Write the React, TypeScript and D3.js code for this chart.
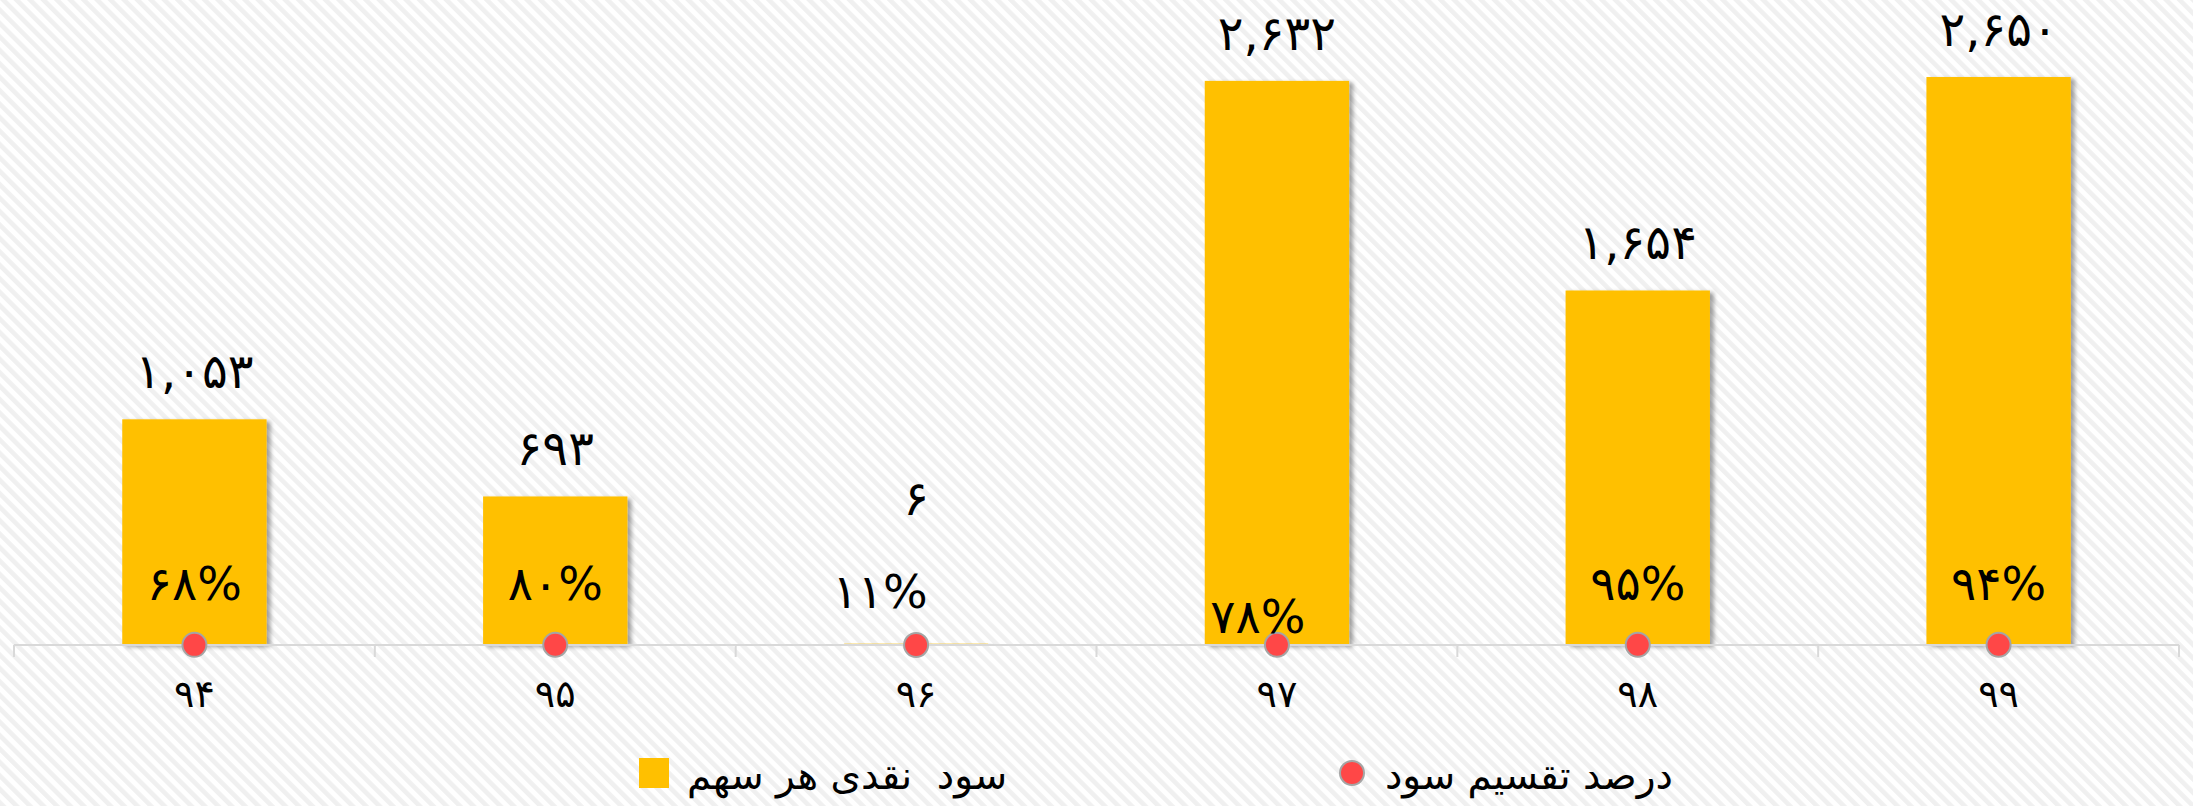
import React from 'react';
import * as d3 from 'd3';

// ---- data ----
const categories = [94, 95, 96, 97, 98, 99];
const cashDividend = [1053, 693, 6, 2632, 1654, 2650];
const payoutRatio = [0.68, 0.8, 0.11, 0.78, 0.95, 0.94];
const seriesNames = ['سود  نقدی هر سهم', 'درصد تقسیم سود'];
const yDomain = [0, 3000];

// ---- layout ----
const W = 2193;
const H = 806;
const plotLeft = 14;
const plotRight = 2179;
const plotBottom = 645;
const plotTop = 2;
const FONT = "'DejaVu Sans', sans-serif";
const BAR = '#FFC000';
const DOT = '#FF4747';
// manual label placement in the original (per category year)
const pctLabelNudge: Record<number, [number, number]> = { 96: [-36, 8], 97: [-19, 33] };

const fa = (s: string) => s.replace(/\d/g, (d) => '۰۱۲۳۴۵۶۷۸۹'[+d]);

export default function App() {
  const x = d3
    .scaleBand<number>()
    .domain(categories)
    .range([plotLeft, plotRight])
    .paddingInner(0.6)
    .paddingOuter(0.3);
  const xAxis = d3.scaleBand<number>().domain(categories).range([plotLeft, plotRight]).padding(0);
  const y = d3.scaleLinear().domain(yDomain).range([plotBottom, plotTop]);
  const fmt = d3.format(',');
  const pctFmt = d3.format('.0%');

  const pctBaseline = plotBottom - 45;
  const tickEdges = [...categories.map((c) => xAxis(c)!), plotRight];

  return (
    <svg
      width={W}
      height={H}
      viewBox={`0 0 ${W} ${H}`}
      style={{ position: 'absolute', left: 0, top: 0, display: 'block' }}
    >
      <defs>
        <pattern
          id="stripes"
          patternUnits="userSpaceOnUse"
          width={9.5}
          height={9.5}
          patternTransform="rotate(-45)"
        >
          <rect x={0} y={0} width={9.5} height={9.5} fill="#ffffff" />
          <rect x={0} y={0} width={4.6} height={9.5} fill="#f0f0f0" />
        </pattern>
        <filter id="shadow" x="-20%" y="-20%" width="150%" height="150%">
          <feDropShadow dx={4} dy={2} stdDeviation={2.2} floodColor="#000" floodOpacity={0.35} />
        </filter>
      </defs>
      <rect x={0} y={0} width={W} height={H} fill="url(#stripes)" />

      {/* bars */}
      {categories.map((c, i) => (
        <rect
          key={'b' + c}
          x={x(c)}
          y={y(cashDividend[i])}
          width={x.bandwidth()}
          height={y(0) - y(cashDividend[i])}
          fill={BAR}
          filter="url(#shadow)"
        />
      ))}

      {/* axis */}
      <line x1={plotLeft} x2={plotRight} y1={plotBottom} y2={plotBottom} stroke="#d9d9d9" strokeWidth={2} />
      {tickEdges.map((tx, i) => (
        <line key={'t' + i} x1={tx} x2={tx} y1={plotBottom} y2={plotBottom + 12} stroke="#d9d9d9" strokeWidth={2} />
      ))}
      {categories.map((c) => (
        <text
          key={'c' + c}
          x={x(c)! + x.bandwidth() / 2}
          y={707}
          textAnchor="middle"
          fontFamily={FONT}
          fontSize={38}
          fill="#000"
        >
          {fa(String(c))}
        </text>
      ))}

      {/* payout ratio points */}
      {categories.map((c, i) => (
        <circle
          key={'d' + c}
          cx={x(c)! + x.bandwidth() / 2}
          cy={y(payoutRatio[i])}
          r={12}
          fill={DOT}
          stroke="#a5a5a5"
          strokeWidth={2}
        />
      ))}

      {/* value labels */}
      {categories.map((c, i) => (
        <text
          key={'v' + c}
          x={x(c)! + x.bandwidth() / 2}
          y={Math.min(y(cashDividend[i]) - 31, pctBaseline - 85)}
          textAnchor="middle"
          fontFamily={FONT}
          fontSize={48}
          fill="#000"
        >
          {fa(fmt(cashDividend[i]))}
        </text>
      ))}

      {/* percent labels */}
      {categories.map((c, i) => {
        const [dx, dy] = pctLabelNudge[c] || [0, 0];
        return (
          <text
            key={'p' + c}
            x={x(c)! + x.bandwidth() / 2 + dx}
            y={pctBaseline + dy}
            textAnchor="middle"
            fontFamily={FONT}
            fontSize={47}
            fill="#000"
          >
            {fa(pctFmt(payoutRatio[i]))}
          </text>
        );
      })}

      {/* legend */}
      <rect x={639} y={758} width={30} height={30} fill={BAR} />
      <text x={687} y={789} fontFamily={FONT} fontSize={39} fill="#000" style={{ whiteSpace: 'pre' }}>
        {seriesNames[0]}
      </text>
      <circle cx={1352} cy={773} r={12} fill={DOT} stroke="#a5a5a5" strokeWidth={2} />
      <text x={1385} y={789} fontFamily={FONT} fontSize={39} fill="#000" style={{ whiteSpace: 'pre' }}>
        {seriesNames[1]}
      </text>
    </svg>
  );
}
